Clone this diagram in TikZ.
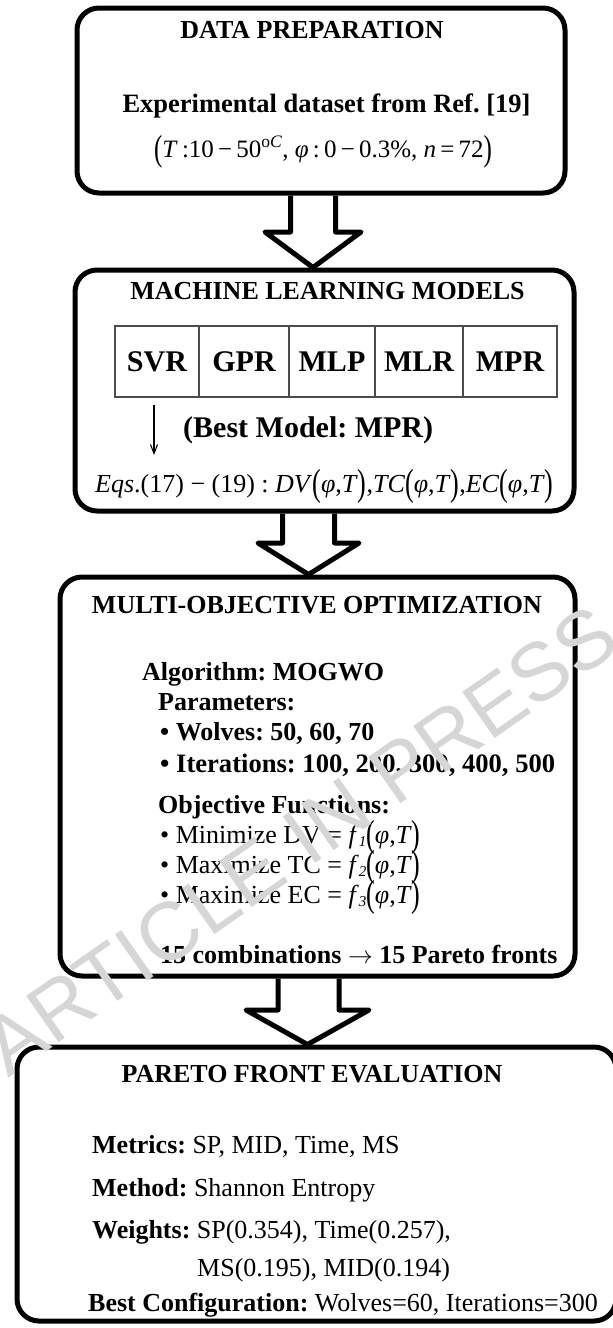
\documentclass[tikz,border=0pt]{standalone}
\usepackage{fontspec}
\setmainfont{Liberation Serif}
\newfontfamily\stampfont{Liberation Sans}
\usepackage{graphicx}
\usetikzlibrary{arrows.meta}
\frenchspacing

% font size helper (size in pt, which is one pixel here)
\newcommand\setfs[1]{\fontsize{#1}{#1}\selectfont}
% tall parentheses used in the formulas
\newcommand\tallpar[1]{\raisebox{-0.12em}{\scalebox{1}[1.45]{#1}}}
\newcommand\phiT{\tallpar{(}\textit{φ},\textit{T}\tallpar{)}}
\newcommand\fsub[1]{\textit{f}{\setfs{15}\raisebox{-3pt}{\textit{#1}}}}

\begin{document}
\begin{tikzpicture}[x=1pt,y=-1pt,
  stage/.style={draw=black, line width=5pt, rounded corners=22pt, rectangle, inner sep=0pt},
  shaft/.style={draw=black, line width=5pt, line join=round},
  cell/.style={draw=black!70, line width=1.1pt, minimum height=71pt, inner sep=0pt, font=\bfseries\setfs{30}},
  head/.style={font=\bfseries\setfs{26}, anchor=base, inner sep=0pt},
  body/.style={font=\setfs{26}, anchor=base west, inner sep=0pt},
  bodyb/.style={font=\bfseries\setfs{26}, anchor=base west, inner sep=0pt},
  pickarrow/.style={draw=black, line width=1.1pt, -{Straight Barb[length=9pt,width=7pt]}},
  stamp/.style={font=\stampfont\setfs{82}, text=black!16, rotate=35, inner sep=0pt}]

\useasboundingbox (0,0) rectangle (613,1328);

% the four stages
\node[stage, minimum width=488pt, minimum height=185pt] (prep) at (321,100.5) {};
\node[stage, minimum width=499pt, minimum height=241pt] (ml)   at (324.5,390.5) {};
\node[stage, minimum width=515pt, minimum height=399pt] (moo)  at (317.5,776.5) {};
\node[stage, minimum width=599pt, minimum height=274pt] (pfe)  at (316.5,1184) {};

% hollow block arrows between the stages
\draw[shaft] (290.5,0 |- prep.south) -- (290.5,232) -- (265,232) -- (313,0 |- ml.north)
             -- (361,232) -- (335.5,232) -- (335.5,0 |- prep.south);
\draw[shaft] (282.5,0 |- ml.south) -- (282.5,543) -- (258,543) -- (308.5,0 |- moo.north)
             -- (359,543) -- (334.5,543) -- (334.5,0 |- ml.south);
\draw[shaft] (278,0 |- moo.south) -- (278,1010) -- (246,1010) -- (307.5,0 |- pfe.north)
             -- (369,1010) -- (339,1010) -- (339,0 |- moo.south);

% stage 1: data preparation
\node[head] (t1) at (312,38) {DATA PREPARATION};
\node[head, font=\bfseries\setfs{26.5}] (t1b) at (326.5,112) {Experimental dataset from Ref. [19]};
\node[body, font=\setfs{25}, anchor=base] (t1c) at (323,157)
  {\tallpar{(}\textit{T}\,:10\,−\,50\textsuperscript{o\textit{C}}, \textit{φ}\,:\,0\,−\,0.3\%, \textit{n}\,=\,72\tallpar{)}};

% stage 2: machine learning models
\node[head] (t2) at (327.5,299) {MACHINE LEARNING MODELS};
\node[cell, minimum width=84pt] (svr) at (157,361.5) {SVR};
\node[cell, minimum width=90pt] (gpr) at (244,361.5) {GPR};
\node[cell, minimum width=86pt] (mlp) at (332,361.5) {MLP};
\node[cell, minimum width=88pt] (mlr) at (419,361.5) {MLR};
\node[cell, minimum width=94pt] (mpr) at (510,361.5) {MPR};
\coordinate (pick) at (154,455);
\draw[pickarrow] ([xshift=-3pt,yshift=-7pt]svr.south) -- (pick);
\node[bodyb, font=\bfseries\setfs{30}] (best) at (183,437) {(Best Model: MPR)};
\node[body] (eqs) at (95,492)
  {\textit{Eqs}.(17) − (19) : \textit{DV}\phiT,\textit{TC}\phiT,\textit{EC}\phiT};

% stage 3: multi-objective optimization
\node[head] (t3) at (317,613) {MULTI-OBJECTIVE OPTIMIZATION};
\node[bodyb] (alg) at (142,680) {Algorithm: MOGWO};
\node[bodyb] (par) at (158,710) {Parameters:};
\node[bodyb] (wol) at (160,740) {• Wolves: 50, 60, 70};
\node[bodyb, font=\bfseries\setfs{26.6}] (ite) at (160,772) {• Iterations: 100, 200, 300, 400, 500};
\node[bodyb] (obj) at (158,813) {Objective Functions:};
\node[body] (o1) at (160,843) {• Minimize DV = \fsub{1}\phiT};
\node[body] (o2) at (160,873) {• Maximize TC = \fsub{2}\phiT};
\node[body] (o3) at (160,903) {• Maximize EC = \fsub{3}\phiT};
\node[bodyb] (cmb) at (160,963) {15 combinations $\rightarrow$ 15 Pareto fronts};

% stage 4: Pareto front evaluation
\node[head] (t4) at (312,1082) {PARETO FRONT EVALUATION};
\node[body] (met) at (92,1153) {\textbf{Metrics:} SP, MID, Time, MS};
\node[body] (mth) at (92,1196) {\textbf{Method:} Shannon Entropy};
\node[body] (wgt) at (92,1238) {\textbf{Weights:} SP(0.354), Time(0.257),};
\node[body] (wgt2) at (197,1276) {MS(0.195), MID(0.194)};
\node[body] (cfg) at (88,1311) {\textbf{Best Configuration:} Wolves=60, Iterations=300};

% diagonal stamp across the sheet
\node[stamp] (stamp) at (300,840) {ARTICLE IN PRESS};
\end{tikzpicture}
\end{document}
